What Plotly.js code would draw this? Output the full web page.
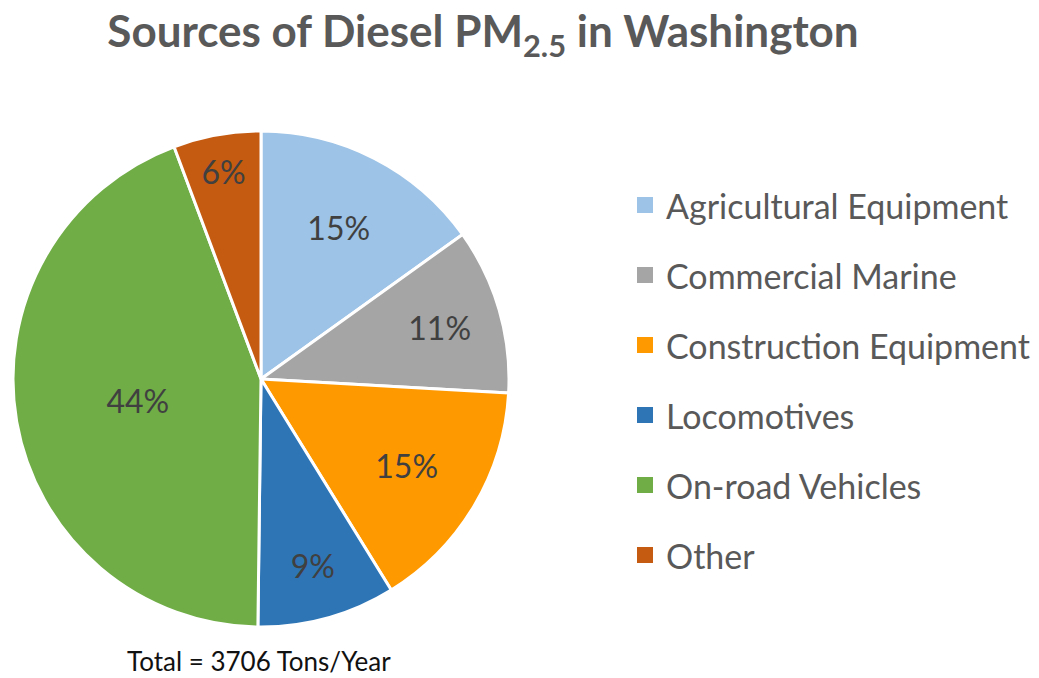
<!DOCTYPE html>
<html><head><meta charset="utf-8">
<script src="https://cdn.plot.ly/plotly-3.0.1.min.js"></script>
<style>html,body{margin:0;padding:0;background:#fff}#chart{width:1039px;height:678px}</style>
</head><body><div id="chart"></div>
<script>
const categories = ["Agricultural Equipment","Commercial Marine","Construction Equipment","Locomotives","On-road Vehicles","Other"];
const shares = [15.1, 10.8, 15.3, 9.0, 44.1, 5.7];
const colors = ["#9DC3E6","#A5A5A5","#FF9900","#2E75B6","#70AD47","#C55A11"];
const titleText = "Sources of Diesel PM<sub>2.5</sub> in Washington";
const footText = "Total = 3706 Tons/Year";

const W = 1039, H = 678;
const FONT = "Lato, 'Open Sans', sans-serif";

const trace = {
  type: "pie",
  labels: categories,
  values: shares,
  sort: false,
  direction: "clockwise",
  rotation: 0,
  marker: {colors: colors, line: {color: "#ffffff", width: 3}},
  textinfo: "percent",
  texttemplate: "%{percent:.0%}",
  textposition: "inside",
  insidetextorientation: "horizontal",
  insidetextfont: {family: FONT, size: 32, color: "#404040"},
  domain: {x: [13/W, 509/W], y: [(H-627)/H, (H-131)/H]},
  showlegend: false,
  hoverinfo: "label+percent"
};

const shapes = [], annotations = [];
categories.forEach((c, i) => {
  const yc = 205 + 70*i;
  shapes.push({type: "rect", xref: "paper", yref: "paper",
    x0: 637/W, x1: 653/W, y0: (H-yc-8)/H, y1: (H-yc+8)/H,
    fillcolor: colors[i], line: {width: 0}});
  annotations.push({xref: "paper", yref: "paper", x: 664/W, y: (H-yc)/H,
    xanchor: "left", yanchor: "middle", showarrow: false, text: c,
    font: {family: FONT, size: 34, color: "#595959"}});
});
annotations.push({xref: "paper", yref: "paper", x: 259/W, y: 0,
  xanchor: "center", yanchor: "bottom", showarrow: false, text: footText,
  borderpad: 0,
  font: {family: FONT, size: 26, color: "#111111"}});

const layout = {
  width: W, height: H,
  margin: {l: 0, r: 0, t: 0, b: 0},
  paper_bgcolor: "#ffffff",
  title: {text: "<b>" + titleText + "</b>", x: 483/W, xanchor: "center", y: 1 - 32/H, yanchor: "middle",
    font: {family: FONT, size: 44, color: "#595959"}},
  shapes: shapes,
  annotations: annotations
};
Plotly.newPlot("chart", [trace], layout, {displayModeBar: false});
</script></body></html>
